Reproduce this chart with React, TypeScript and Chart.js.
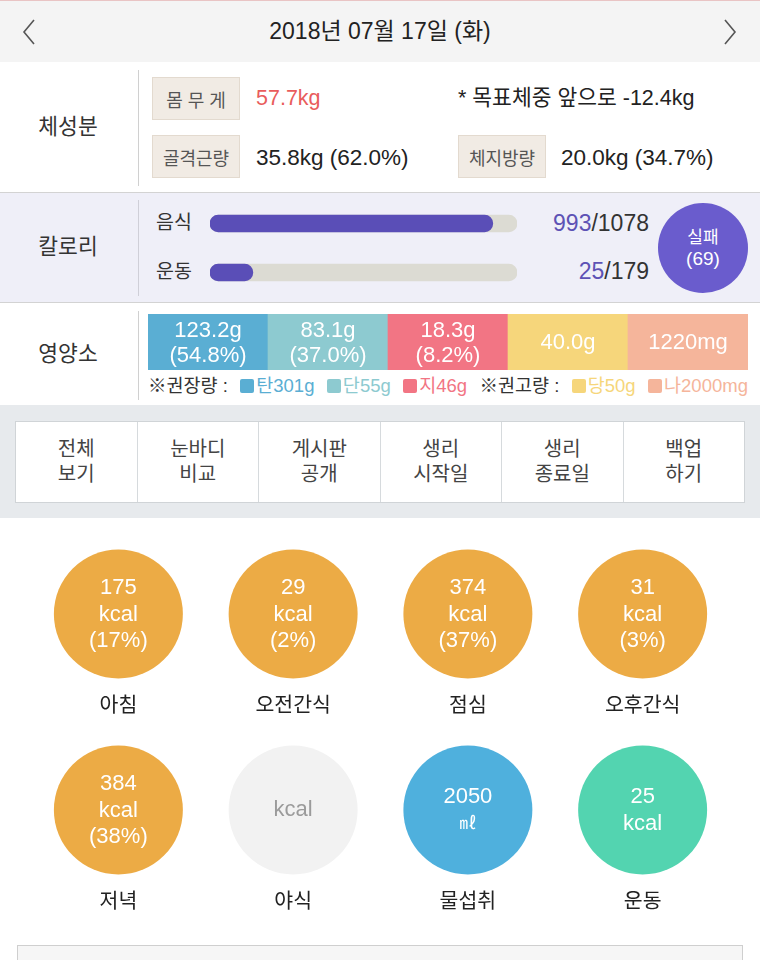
import React, { useEffect, useRef } from 'react';
import { Chart, registerables } from 'chart.js';

Chart.register(...registerables);

const FONT = '"Liberation Sans", "Noto Sans CJK KR", sans-serif';

// ---------- data ----------
const dateTitle = '2018년 07월 17일 (화)';
const weightKg = 57.7;
const goalRemainKg = -12.4;
const muscleKg = 35.8;
const musclePct = 62.0;
const fatKg = 20.0;
const fatPct = 34.7;

const calorieLabels = ['음식', '운동'];
const calorieConsumed = [993, 25];
const calorieTarget = [1078, 179];
const calorieResult = '실패';
const calorieDiff = 69;

const nutrientNames = ['탄수화물', '단백질', '지방', '당류', '나트륨'];
const nutrientAmounts = [123.2, 83.1, 18.3, 40.0, 1220];
const nutrientUnits = ['g', 'g', 'g', 'g', 'mg'];
const nutrientPcts: (number | null)[] = [54.8, 37.0, 8.2, null, null];
const nutrientCellFill = [1, 1, 1, 1, 1];
const nutrientShort = ['탄', '단', '지', '당', '나'];
const nutrientGuide = [301, 55, 46, 50, 2000];

const buttonLabels = [
  ['전체', '보기'],
  ['눈바디', '비교'],
  ['게시판', '공개'],
  ['생리', '시작일'],
  ['생리', '종료일'],
  ['백업', '하기'],
];

const mealNames = ['아침', '오전간식', '점심', '오후간식', '저녁', '야식', '물섭취', '운동'];
const mealValues: (number | null)[] = [175, 29, 374, 31, 384, null, 2050, 25];
const mealUnits = ['kcal', 'kcal', 'kcal', 'kcal', 'kcal', 'kcal', '㎖', 'kcal'];
const mealPcts: (number | null)[] = [17, 2, 37, 3, 38, null, null, null];

// ---------- styles ----------
const PURPLE = '#5a4eb7';
const nutrientColors = ['#5aaed3', '#8dcad0', '#f27584', '#f6d67b', '#f5b59b'];
const mealColors = ['#ecab45', '#ecab45', '#ecab45', '#ecab45', '#ecab45', '#f2f2f2', '#4fb0dd', '#53d4b0'];

const fmtNutrient = (v: number, u: string) => (u === 'mg' ? v.toFixed(0) : v.toFixed(1)) + u;

function T({ x, y, children, style, center }: any) {
  return (
    <div
      style={{
        position: 'absolute',
        left: x,
        top: y,
        transform: center ? 'translate(-50%, -50%)' : 'translate(0, -50%)',
        whiteSpace: 'nowrap',
        lineHeight: 1.2,
        ...style,
      }}
    >
      {children}
    </div>
  );
}

function CalorieBars() {
  const ref = useRef<HTMLCanvasElement>(null);
  useEffect(() => {
    const chart = new Chart(ref.current!, {
      type: 'bar',
      data: {
        labels: calorieLabels,
        datasets: [
          {
            data: calorieConsumed.map((v, i) => (v / calorieTarget[i]) * 100),
            backgroundColor: PURPLE,
            order: 0,
            barThickness: 17,
            borderRadius: 9,
            borderSkipped: false,
            grouped: false,
          } as any,
          {
            data: calorieTarget.map(() => 100),
            backgroundColor: '#dcdbd3',
            order: 1,
            barThickness: 17,
            borderRadius: 9,
            borderSkipped: false,
            grouped: false,
          } as any,
        ],
      },
      options: {
        indexAxis: 'y',
        responsive: false,
        animation: false,
        events: [],
        layout: { padding: 0, autoPadding: false } as any,
        plugins: { legend: { display: false }, tooltip: { enabled: false } },
        scales: {
          x: { display: false, min: 0, max: 100 },
          y: { display: false },
        },
      },
    });
    return () => chart.destroy();
  }, []);
  return (
    <canvas
      ref={ref}
      width={307}
      height={98}
      style={{ position: 'absolute', left: 210, top: 198.5, width: 307, height: 98 }}
    />
  );
}

function NutrientBar() {
  const ref = useRef<HTMLCanvasElement>(null);
  useEffect(() => {
    const textPlugin = {
      id: 'cellText',
      afterDatasetsDraw(chart: any) {
        const ctx = chart.ctx;
        const meta = chart.getDatasetMeta(0);
        const cy = (chart.chartArea.top + chart.chartArea.bottom) / 2;
        ctx.save();
        ctx.fillStyle = '#ffffff';
        ctx.font = '22px ' + FONT;
        ctx.textAlign = 'center';
        ctx.textBaseline = 'middle';
        meta.data.forEach((bar: any, i: number) => {
          const amt = fmtNutrient(nutrientAmounts[i], nutrientUnits[i]);
          const p = nutrientPcts[i];
          if (p !== null) {
            ctx.fillText(amt, bar.x, cy - 11.5);
            ctx.fillText('(' + p.toFixed(1) + '%)', bar.x, cy + 14);
          } else {
            ctx.fillText(amt, bar.x, cy + 1);
          }
        });
        ctx.restore();
      },
    };
    const chart = new Chart(ref.current!, {
      type: 'bar',
      data: {
        labels: nutrientNames,
        datasets: [
          {
            data: nutrientCellFill,
            backgroundColor: nutrientColors,
            borderWidth: 0,
            categoryPercentage: 1,
            barPercentage: 1,
          },
        ],
      },
      options: {
        responsive: false,
        animation: false,
        events: [],
        layout: { padding: 0, autoPadding: false } as any,
        plugins: { legend: { display: false }, tooltip: { enabled: false } },
        scales: {
          x: { display: false },
          y: { display: false, min: 0, max: 1 },
        },
      },
      plugins: [textPlugin],
    });
    return () => chart.destroy();
  }, []);
  return (
    <canvas
      ref={ref}
      width={600}
      height={56}
      style={{ position: 'absolute', left: 148, top: 314, width: 600, height: 56 }}
    />
  );
}

function MealCircles() {
  const ref = useRef<HTMLCanvasElement>(null);
  useEffect(() => {
    const textPlugin = {
      id: 'mealText',
      afterDatasetsDraw(chart: any) {
        const ctx = chart.ctx;
        const meta = chart.getDatasetMeta(0);
        ctx.save();
        ctx.textAlign = 'center';
        ctx.textBaseline = 'middle';
        meta.data.forEach((pt: any, i: number) => {
          const { x, y } = pt;
          const v = mealValues[i];
          const p = mealPcts[i];
          const u = mealUnits[i];
          ctx.font = '22px ' + FONT;
          if (v === null) {
            ctx.fillStyle = '#9b9b9b';
            ctx.fillText(u, x, y);
          } else if (p !== null) {
            ctx.fillStyle = '#ffffff';
            ctx.fillText(String(v), x, y - 26);
            ctx.fillText(u, x, y + 1);
            ctx.fillText('(' + p + '%)', x, y + 27);
          } else {
            ctx.fillStyle = '#ffffff';
            ctx.fillText(String(v), x, y - 13);
            if (u === '㎖') ctx.font = '17px ' + FONT;
            ctx.fillText(u, x, y + 14);
          }
          ctx.font = '20.5px ' + FONT;
          ctx.fillStyle = '#222222';
          ctx.fillText(mealNames[i], x, y + 92);
        });
        ctx.restore();
      },
    };
    const chart = new Chart(ref.current!, {
      type: 'scatter',
      data: {
        datasets: [
          {
            data: mealNames.map((_, i) => ({ x: (i % 4) + 0.5, y: Math.floor(i / 4) + 0.5 })),
            pointRadius: 64.5,
            pointBackgroundColor: mealColors,
            pointBorderWidth: 0,
            borderWidth: 0,
            clip: false,
          } as any,
        ],
      },
      options: {
        responsive: false,
        animation: false,
        events: [],
        layout: { padding: { left: 0, right: 0, top: 0, bottom: 22 }, autoPadding: false } as any,
        plugins: { legend: { display: false }, tooltip: { enabled: false } },
        scales: {
          x: { type: 'linear', display: false, min: 0, max: 4 },
          y: { type: 'linear', display: false, min: 0, max: 2, reverse: true },
        },
      },
      plugins: [textPlugin],
    });
    return () => chart.destroy();
  }, []);
  return (
    <canvas
      ref={ref}
      width={699}
      height={414}
      style={{ position: 'absolute', left: 31, top: 516, width: 699, height: 414 }}
    />
  );
}

const Chevron = ({ left, dir }: any) => (
  <svg
    width={14}
    height={26}
    style={{ position: 'absolute', left, top: 19 }}
    viewBox="0 0 14 26"
  >
    <polyline
      points={dir === 'l' ? '12,1 2,13 12,25' : '2,1 12,13 2,25'}
      fill="none"
      stroke="#555"
      strokeWidth={1.6}
    />
  </svg>
);

const boxStyle: React.CSSProperties = {
  position: 'absolute',
  width: 88,
  height: 43,
  background: '#f1ebe4',
  border: '1px solid #e3dacf',
  boxSizing: 'border-box',
  display: 'flex',
  alignItems: 'center',
  justifyContent: 'center',
  fontSize: 18,
  color: '#555',
};

export default function App() {
  useEffect(() => {
    document.body.style.margin = '0';
  }, []);
  return (
    <div
      style={{
        position: 'absolute',
        left: 0,
        top: 0,
        width: 760,
        height: 960,
        overflow: 'hidden',
        background: '#ffffff',
        fontFamily: FONT,
        color: '#222',
      }}
    >
      {/* header */}
      <div
        style={{
          position: 'absolute',
          left: 0,
          top: 0,
          width: 760,
          height: 62,
          background: '#f4f4f4',
          borderTop: '1px solid #e9c4c4',
          boxSizing: 'border-box',
        }}
      />
      <Chevron left={22} dir="l" />
      <Chevron left={723} dir="r" />
      <T x={380} y={32} center style={{ fontSize: 23, color: '#222' }}>
        {dateTitle}
      </T>

      {/* body composition */}
      <T x={68} y={128} center style={{ fontSize: 21.5, color: '#333' }}>체성분</T>
      <div style={{ position: 'absolute', left: 138, top: 70, width: 1, height: 116, background: '#d0d0d0' }} />
      <div style={{ ...boxStyle, left: 152, top: 77 }}>몸 무 게</div>
      <T x={256} y={99} style={{ fontSize: 21.5, color: '#e95c5c' }}>{weightKg.toFixed(1)}kg</T>
      <T x={458} y={99} style={{ fontSize: 21.5, color: '#222' }}>
        * 목표체중 앞으로 {goalRemainKg.toFixed(1)}kg
      </T>
      <div style={{ ...boxStyle, left: 152, top: 135 }}>골격근량</div>
      <T x={256} y={157} style={{ fontSize: 22.5, color: '#222' }}>
        {muscleKg.toFixed(1)}kg ({musclePct.toFixed(1)}%)
      </T>
      <div style={{ ...boxStyle, left: 458, top: 135 }}>체지방량</div>
      <T x={561} y={157} style={{ fontSize: 22.5, color: '#222' }}>
        {fatKg.toFixed(1)}kg ({fatPct.toFixed(1)}%)
      </T>
      <div style={{ position: 'absolute', left: 0, top: 192, width: 760, height: 1, background: '#d3d3d3' }} />

      {/* calories */}
      <div style={{ position: 'absolute', left: 0, top: 193, width: 760, height: 109, background: '#efeff8' }} />
      <T x={68} y={248} center style={{ fontSize: 21.5, color: '#333' }}>칼로리</T>
      <div style={{ position: 'absolute', left: 138, top: 200, width: 1, height: 96, background: '#cfcfd8' }} />
      <T x={156} y={223} style={{ fontSize: 19.5, color: '#333' }}>{calorieLabels[0]}</T>
      <T x={156} y={272} style={{ fontSize: 19.5, color: '#333' }}>{calorieLabels[1]}</T>
      <CalorieBars />
      {calorieConsumed.map((v, i) => (
        <div
          key={i}
          style={{
            position: 'absolute',
            right: 760 - 649,
            top: i === 0 ? 224 : 272,
            transform: 'translateY(-50%)',
            fontSize: 23,
            lineHeight: 1.2,
            whiteSpace: 'nowrap',
            color: '#333',
          }}
        >
          <span style={{ color: '#5d52b5' }}>{v}</span>/{calorieTarget[i]}
        </div>
      ))}
      <div
        style={{
          position: 'absolute',
          left: 658,
          top: 203,
          width: 90,
          height: 90,
          borderRadius: '50%',
          background: '#6a5ccd',
          color: '#fff',
          display: 'flex',
          flexDirection: 'column',
          alignItems: 'center',
          justifyContent: 'center',
          lineHeight: '21px',
        }}
      >
        <div style={{ fontSize: 17 }}>{calorieResult}</div>
        <div style={{ fontSize: 19 }}>({calorieDiff})</div>
      </div>
      <div style={{ position: 'absolute', left: 0, top: 302, width: 760, height: 1, background: '#d3d3d3' }} />

      {/* nutrients */}
      <T x={68} y={355} center style={{ fontSize: 21.5, color: '#333' }}>영양소</T>
      <div style={{ position: 'absolute', left: 138, top: 311, width: 1, height: 89, background: '#d0d0d0' }} />
      <NutrientBar />
      <div
        style={{
          position: 'absolute',
          left: 148,
          top: 386,
          width: 600,
          transform: 'translateY(-50%)',
          display: 'flex',
          justifyContent: 'space-between',
          alignItems: 'center',
          fontSize: 18.5,
          lineHeight: 1.2,
          whiteSpace: 'nowrap',
          color: '#333',
        }}
      >
        <span>※권장량 :</span>
        {nutrientShort.slice(0, 3).map((s, i) => (
          <span key={s} style={{ color: nutrientColors[i], display: 'flex', alignItems: 'center' }}>
            <span style={{ display: 'inline-block', width: 14, height: 14, borderRadius: 2, background: nutrientColors[i], marginRight: 2 }} />
            {s}
            {nutrientGuide[i]}g
          </span>
        ))}
        <span>※권고량 :</span>
        {nutrientShort.slice(3).map((s, j) => {
          const i = j + 3;
          return (
            <span key={s} style={{ color: nutrientColors[i], display: 'flex', alignItems: 'center' }}>
              <span style={{ display: 'inline-block', width: 14, height: 14, borderRadius: 2, background: nutrientColors[i], marginRight: 2 }} />
              {s}
              {nutrientGuide[i]}
              {nutrientUnits[i]}
            </span>
          );
        })}
      </div>

      {/* button band */}
      <div style={{ position: 'absolute', left: 0, top: 405, width: 760, height: 113, background: '#e7eaed' }} />
      <div
        style={{
          position: 'absolute',
          left: 15,
          top: 421,
          width: 730,
          height: 82,
          background: '#fff',
          border: '1px solid #d0d4d7',
          boxSizing: 'border-box',
          display: 'flex',
        }}
      >
        {buttonLabels.map((b, i) => (
          <div
            key={i}
            style={{
              flex: 1,
              borderLeft: i === 0 ? 'none' : '1px solid #d6dadd',
              display: 'flex',
              flexDirection: 'column',
              alignItems: 'center',
              justifyContent: 'center',
              fontSize: 20,
              lineHeight: '25px',
              color: '#444',
            }}
          >
            <div>{b[0]}</div>
            <div>{b[1]}</div>
          </div>
        ))}
      </div>

      {/* meals */}
      <MealCircles />

      {/* bottom box */}
      <div
        style={{
          position: 'absolute',
          left: 17,
          top: 945,
          width: 726,
          height: 40,
          background: '#f6f6f6',
          border: '1px solid #cfcfcf',
          boxSizing: 'border-box',
        }}
      />
    </div>
  );
}
